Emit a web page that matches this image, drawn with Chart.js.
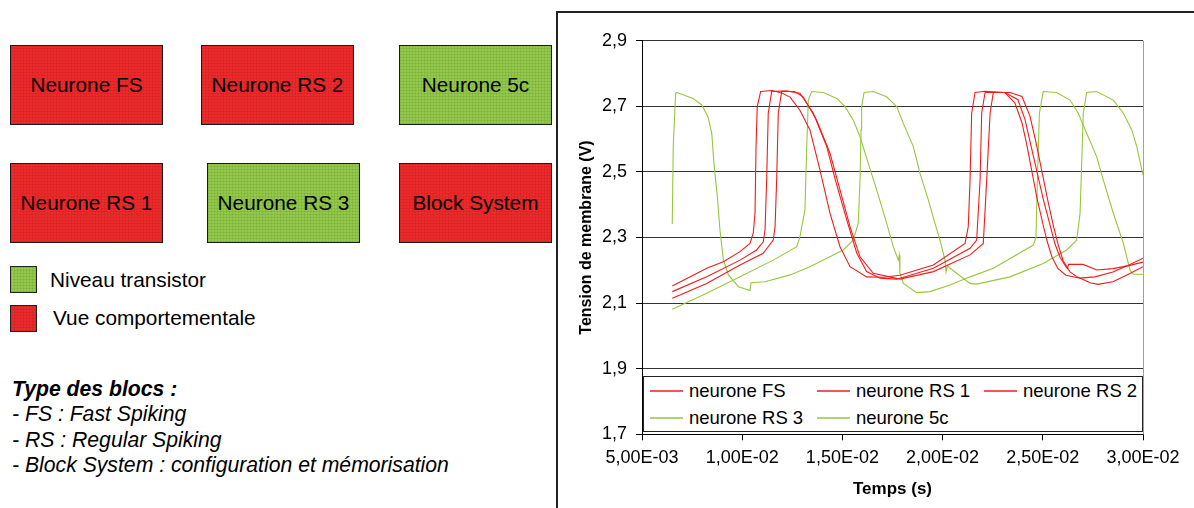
<!DOCTYPE html>
<html lang="fr">
<head>
<meta charset="utf-8">
<title>Tension de membrane</title>
<script src="https://cdn.jsdelivr.net/npm/chart.js@4.4.1/dist/chart.umd.min.js"></script>
<style>
  html, body { margin: 0; padding: 0; background: #fff; }
  body { width: 1194px; height: 508px; position: relative; overflow: hidden;
         font-family: "Liberation Sans", Arial, sans-serif; color: #000; }
  .box { position: absolute; box-sizing: border-box; border: 1.5px solid #1a1a1a;
         display: flex; align-items: center; justify-content: center; font-size: 20.8px; }
  .red { background-color: #ec2a2a;
         background-image: repeating-linear-gradient(0deg, rgba(120,0,0,0.10) 0 1px, transparent 1px 3px),
                           repeating-linear-gradient(90deg, rgba(120,0,0,0.10) 0 1px, transparent 1px 3px); }
  .green { background-color: #93c84a;
         background-image: repeating-linear-gradient(0deg, rgba(40,80,0,0.10) 0 1px, transparent 1px 3px),
                           repeating-linear-gradient(90deg, rgba(40,80,0,0.10) 0 1px, transparent 1px 3px); }
  .key { position: absolute; left: 10px; width: 27px; height: 27px; box-sizing: border-box; }
  .keytext { position: absolute; font-size: 20.8px; line-height: 24px; white-space: nowrap; }
  .types { position: absolute; left: 12px; top: 376px; font-size: 21.2px; font-style: italic; line-height: 25.3px; white-space: nowrap; }
  .types b { font-weight: bold; }
  #frame { position: absolute; left: 556px; top: 11px; width: 700px; height: 600px;
           border-left: 2px solid #222; border-top: 2px solid #222; }
  #wrap { position: absolute; left: 558px; top: 13px; width: 636px; height: 495px; }
  #legend { position: absolute; left: 643px; top: 376px; width: 500px; height: 56px; box-sizing: border-box;
            border: 1.5px solid #222; background: #fff; z-index: 2; }
  .item { position: absolute; display: flex; align-items: center; font-size: 18.5px; white-space: nowrap; height: 22px; }
  .swatch { display: inline-block; width: 33px; height: 2px; margin-right: 6px; opacity: 0.75; }
</style>
</head>
<body>
<div class="box red" style="left:10px;top:45px;width:153px;height:80px">Neurone FS</div>
<div class="box red" style="left:201px;top:45px;width:153px;height:80px">Neurone RS 2</div>
<div class="box green" style="left:399px;top:45px;width:153px;height:80px">Neurone 5c</div>
<div class="box red" style="left:10px;top:163px;width:153px;height:80px">Neurone RS 1</div>
<div class="box green" style="left:207px;top:163px;width:153px;height:80px">Neurone RS 3</div>
<div class="box red" style="left:399px;top:163px;width:153px;height:80px">Block System</div>

<div class="key green" style="top:266px;border:1.5px solid #222"></div>
<div class="keytext" style="left:50px;top:268px">Niveau transistor</div>
<div class="key red" style="top:305px;border:1.5px solid #222"></div>
<div class="keytext" style="left:53px;top:306px">Vue comportementale</div>

<div class="types"><b>Type des blocs :</b><br>- FS : Fast Spiking<br>- RS : Regular Spiking<br>- Block System : configuration et mémorisation</div>

<div id="frame"></div>
<div id="wrap"><canvas id="chart" width="636" height="495"></canvas></div>
<div id="legend"></div>

<script>
// time in ms, tension in V
const fsPoints = [[6.51,2.152],[8.23,2.206],[9.06,2.226],[9.89,2.257],[10.39,2.282],[10.55,2.313],[10.64,2.374],[10.69,2.577],[10.75,2.699],[10.92,2.745],[11.50,2.748],[12.00,2.740],[12.39,2.728],[12.88,2.688],[13.38,2.628],[13.88,2.506],[14.38,2.374],[14.88,2.272],[15.38,2.211],[16.21,2.180],[17.04,2.179],[17.87,2.185],[19.54,2.216],[21.12,2.282],[21.28,2.333],[21.37,2.475],[21.45,2.679],[21.62,2.742],[22.12,2.746],[23.11,2.742],[23.61,2.710],[23.96,2.650],[24.21,2.580],[24.46,2.500],[24.71,2.420],[25.02,2.338],[25.21,2.290],[25.46,2.240],[25.76,2.205],[26.16,2.185],[26.86,2.176],[27.60,2.180],[28.50,2.195],[29.35,2.218],[30.00,2.237]];
const rs1Points = [[6.51,2.135],[8.23,2.180],[9.89,2.231],[10.72,2.262],[11.05,2.287],[11.14,2.323],[11.22,2.475],[11.30,2.679],[11.47,2.745],[12.20,2.747],[12.88,2.740],[13.55,2.679],[14.22,2.577],[14.65,2.475],[15.22,2.353],[15.72,2.252],[16.21,2.196],[16.88,2.176],[17.71,2.173],[19.54,2.206],[21.37,2.267],[21.70,2.292],[21.87,2.475],[21.95,2.679],[22.12,2.742],[23.11,2.742],[23.76,2.720],[24.11,2.660],[24.41,2.580],[24.71,2.500],[25.01,2.420],[25.36,2.338],[25.61,2.280],[25.86,2.240],[26.16,2.210],[26.23,2.205],[26.28,2.218],[27.01,2.218],[27.70,2.201],[28.50,2.205],[29.35,2.215],[30.00,2.225]];
const rs2Points = [[6.51,2.115],[8.23,2.160],[9.89,2.216],[11.05,2.252],[11.55,2.292],[11.64,2.333],[11.72,2.475],[11.80,2.679],[11.97,2.745],[12.60,2.745],[13.04,2.729],[13.71,2.658],[14.38,2.557],[14.88,2.445],[15.38,2.333],[15.88,2.241],[16.54,2.191],[17.87,2.173],[19.54,2.196],[21.37,2.247],[22.03,2.282],[22.20,2.475],[22.37,2.679],[22.53,2.742],[23.36,2.742],[23.96,2.730],[24.36,2.670],[24.66,2.590],[24.96,2.500],[25.26,2.410],[25.52,2.338],[25.76,2.280],[26.01,2.230],[26.36,2.195],[26.71,2.180],[27.36,2.162],[27.75,2.157],[28.50,2.165],[29.35,2.190],[30.00,2.211]];
const rs3Points = [[6.51,2.081],[8.23,2.130],[9.89,2.180],[11.55,2.231],[12.72,2.272],[12.88,2.302],[13.13,2.384],[13.22,2.577],[13.30,2.719],[13.47,2.745],[14.05,2.742],[14.72,2.724],[15.13,2.699],[15.54,2.658],[15.88,2.607],[16.29,2.526],[16.71,2.445],[17.21,2.343],[17.54,2.272],[17.79,2.231],[17.84,2.246],[17.87,2.191],[18.04,2.160],[18.71,2.132],[19.37,2.135],[20.37,2.155],[21.37,2.180],[22.53,2.206],[24.53,2.277],[24.66,2.302],[24.73,2.475],[24.83,2.679],[25.02,2.745],[25.69,2.742],[26.36,2.719],[26.77,2.679],[27.19,2.618],[27.69,2.546],[28.02,2.475],[28.52,2.374],[29.02,2.282],[29.35,2.201],[29.52,2.188],[30.00,2.188]];
const n5cPoints = [[6.51,2.341],[6.56,2.580],[6.68,2.740],[6.75,2.742],[7.55,2.724],[7.98,2.704],[8.29,2.668],[8.48,2.618],[8.59,2.526],[8.76,2.424],[8.89,2.323],[9.06,2.231],[9.31,2.186],[9.81,2.150],[10.39,2.138],[10.42,2.138],[10.44,2.162],[11.14,2.165],[12.39,2.186],[13.38,2.211],[13.88,2.226],[15.04,2.262],[15.54,2.292],[15.79,2.343],[15.88,2.475],[15.93,2.628],[15.96,2.699],[16.08,2.742],[16.54,2.745],[17.21,2.729],[17.71,2.699],[18.04,2.648],[18.54,2.577],[18.87,2.496],[19.29,2.414],[19.62,2.343],[19.87,2.292],[20.12,2.231],[20.17,2.195],[20.24,2.213],[20.70,2.191],[21.37,2.160],[21.70,2.158],[23.36,2.180],[25.02,2.221],[26.19,2.262],[26.69,2.292],[26.86,2.374],[26.94,2.526],[27.02,2.679],[27.19,2.742],[27.69,2.745],[28.52,2.719],[29.02,2.679],[29.44,2.628],[29.69,2.577],[29.94,2.506],[30.00,2.490]];

const seriesNames = ['neurone FS', 'neurone RS 1', 'neurone RS 2', 'neurone RS 3', 'neurone 5c'];
const seriesPoints = [fsPoints, rs1Points, rs2Points, rs3Points, n5cPoints];
const seriesColors = ['#f01c1c', '#f01c1c', '#f01c1c', '#97c73c', '#97c73c'];

const xTickValues = [0.005, 0.010, 0.015, 0.020, 0.025, 0.030];
const xTickLabels = ['5,00E-03', '1,00E-02', '1,50E-02', '2,00E-02', '2,50E-02', '3,00E-02'];
const yTickValues = [1.7, 1.9, 2.1, 2.3, 2.5, 2.7, 2.9];
const yTickLabels = ['1,7', '1,9', '2,1', '2,3', '2,5', '2,7', '2,9'];

const datasets = seriesNames.map((name, i) => ({
  label: name,
  data: seriesPoints[i].map(([ms, v]) => ({ x: ms / 1000, y: v })),
  borderColor: seriesColors[i],
  borderWidth: 1.1,
  pointRadius: 0,
  tension: 0,
  fill: false
}));

// legend in an html box, like the spreadsheet one
const legendCols = [6, 173, 340];
const legendRows = [3, 29.5];
const legendBox = document.getElementById('legend');
legendBox.innerHTML = seriesNames.map((name, i) => {
  const left = legendCols[i % 3];
  const top = legendRows[Math.floor(i / 3)];
  return `<div class="item" style="left:${left}px;top:${top}px"><span class="swatch" style="background:${seriesColors[i]}"></span>${name}</div>`;
}).join('');

const plotFrame = {
  id: 'plotFrame',
  afterDraw(chart) {
    const { ctx, chartArea: a } = chart;
    ctx.save();
    ctx.strokeStyle = '#a0a0a0';
    ctx.lineWidth = 1;
    ctx.beginPath();
    ctx.moveTo(Math.round(a.right) + 0.5, a.top);
    ctx.lineTo(Math.round(a.right) + 0.5, a.bottom);
    ctx.stroke();
    ctx.restore();
  }
};

const tickFont = { family: '"Liberation Sans", Arial, sans-serif', size: 18 };

new Chart(document.getElementById('chart'), {
  type: 'line',
  data: { datasets },
  plugins: [plotFrame],
  options: {
    responsive: false,
    animation: false,
    devicePixelRatio: 1,
    layout: { padding: { left: 0, top: 27.7, right: 51, bottom: 0 } },
    plugins: { legend: { display: false }, tooltip: { enabled: false } },
    scales: {
      x: {
        type: 'linear',
        min: 0.005,
        max: 0.03,
        afterBuildTicks: (s) => { s.ticks = xTickValues.map((v) => ({ value: v })); },
        afterFit: (s) => { s.height = 73.7; },
        ticks: { font: tickFont, color: '#000', padding: 7, maxRotation: 0, callback: (v, i) => xTickLabels[i] },
        grid: { drawOnChartArea: false, drawTicks: true, tickLength: 6, tickColor: '#000' },
        border: { color: '#000', width: 1 },
        title: { display: true, text: 'Temps (s)', color: '#000', padding: { top: 0, bottom: 8 },
                 font: { family: '"Liberation Sans", Arial, sans-serif', size: 17, weight: 'bold' } }
      },
      y: {
        min: 1.7,
        max: 2.9,
        afterBuildTicks: (s) => { s.ticks = yTickValues.map((v) => ({ value: v })); },
        afterFit: (s) => { s.width = 84; },
        ticks: { font: tickFont, color: '#000', padding: 9, callback: (v, i) => yTickLabels[i] },
        grid: { color: '#333', lineWidth: 1, drawTicks: true, tickLength: 6, tickColor: '#000' },
        border: { color: '#000', width: 1 },
        title: { display: true, text: 'Tension de membrane (V)', color: '#000', padding: { top: 19, bottom: 0 },
                 font: { family: '"Liberation Sans", Arial, sans-serif', size: 16, weight: 'bold' } }
      }
    }
  }
});
</script>
</body>
</html>
